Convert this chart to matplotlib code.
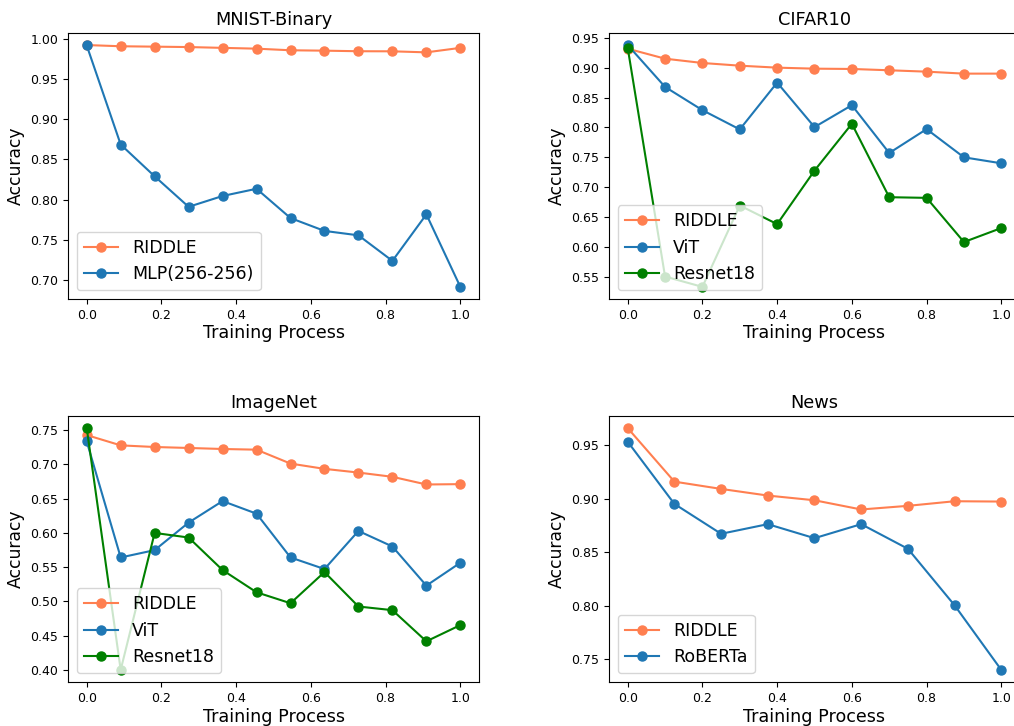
import matplotlib
matplotlib.use("Agg")
import matplotlib.pyplot as plt
import numpy as np

# MNIST-Binary (12 checkpoints)
mnist_x = np.linspace(0, 1, 12)
mnist_riddle = [0.9925, 0.991, 0.9905, 0.9900, 0.989, 0.988, 0.986, 0.9855, 0.9848, 0.9847, 0.9834, 0.989]
mnist_mlp = [0.992, 0.8686, 0.829, 0.791, 0.8045, 0.8135, 0.777, 0.761, 0.7555, 0.7237, 0.7816, 0.6913]

# CIFAR10 (11 checkpoints)
cifar_x = np.linspace(0, 1, 11)
cifar_riddle = [0.9317, 0.915, 0.9078, 0.9033, 0.900, 0.8983, 0.8978, 0.8956, 0.8933, 0.890, 0.890]
cifar_vit = [0.9378, 0.8678, 0.8289, 0.7967, 0.875, 0.8006, 0.8372, 0.7572, 0.7972, 0.750, 0.740]
cifar_resnet = [0.9333, 0.5506, 0.5333, 0.6694, 0.6383, 0.7278, 0.8061, 0.6833, 0.6822, 0.6083, 0.6317]

# ImageNet (12 checkpoints)
imnet_x = np.linspace(0, 1, 12)
imnet_riddle = [0.7427, 0.7277, 0.7253, 0.7239, 0.7224, 0.7214, 0.7011, 0.6934, 0.6880, 0.6818, 0.6706, 0.6711]
imnet_vit = [0.7335, 0.5641, 0.5748, 0.6150, 0.6464, 0.6280, 0.5641, 0.5472, 0.6028, 0.5801, 0.5230, 0.5564]
imnet_resnet = [0.7529, 0.400, 0.5999, 0.5932, 0.5457, 0.5133, 0.4973, 0.5428, 0.4925, 0.4872, 0.4417, 0.4654]

# News (9 checkpoints)
news_x = np.linspace(0, 1, 9)
news_riddle = [0.9658, 0.9158, 0.9090, 0.9028, 0.8984, 0.8898, 0.8932, 0.8975, 0.8972]
news_roberta = [0.9531, 0.8950, 0.8671, 0.8761, 0.8630, 0.8761, 0.8531, 0.8003, 0.7400]

C_RIDDLE = "#ff7f50"
C_BLUE = "#1f77b4"
C_GREEN = "green"

fig = plt.figure(figsize=(10.14, 7.26), dpi=100)
w, h = 0.4053, 0.3664
positions = [(0.0671, 0.5882), (0.6006, 0.5882), (0.0671, 0.0606), (0.6006, 0.0606)]

panels = [
    ("MNIST-Binary", mnist_x, [(mnist_riddle, "RIDDLE", C_RIDDLE), (mnist_mlp, "MLP(256-256)", C_BLUE)]),
    ("CIFAR10", cifar_x, [(cifar_riddle, "RIDDLE", C_RIDDLE), (cifar_vit, "ViT", C_BLUE),
                          (cifar_resnet, "Resnet18", C_GREEN)]),
    ("ImageNet", imnet_x, [(imnet_riddle, "RIDDLE", C_RIDDLE), (imnet_vit, "ViT", C_BLUE),
                           (imnet_resnet, "Resnet18", C_GREEN)]),
    ("News", news_x, [(news_riddle, "RIDDLE", C_RIDDLE), (news_roberta, "RoBERTa", C_BLUE)]),
]

for i, ((left, bottom), (title, x, series)) in enumerate(zip(positions, panels)):
    ax = fig.add_axes([left, bottom, w, h])
    for ys, name, color in series:
        ax.plot(x, ys, "-o", color=color, label=name, linewidth=1.5, markersize=6.5)
    ax.set_title(title, fontsize=12.8)
    ax.set_xlabel("Training Process", fontsize=12.6, labelpad=2)
    ax.set_ylabel("Accuracy", fontsize=12.3, labelpad=4)
    ax.tick_params(labelsize=9)
    ax.set_xticks([0.0, 0.2, 0.4, 0.6, 0.8, 1.0])
    if i % 2 == 1:
        # the original image is cut off before the right border of these panels
        ax.spines["right"].set_visible(False)
    ax.legend(loc="lower left", fontsize=12.5, numpoints=1, framealpha=0.8)

fig.savefig("out.png", dpi=100)
